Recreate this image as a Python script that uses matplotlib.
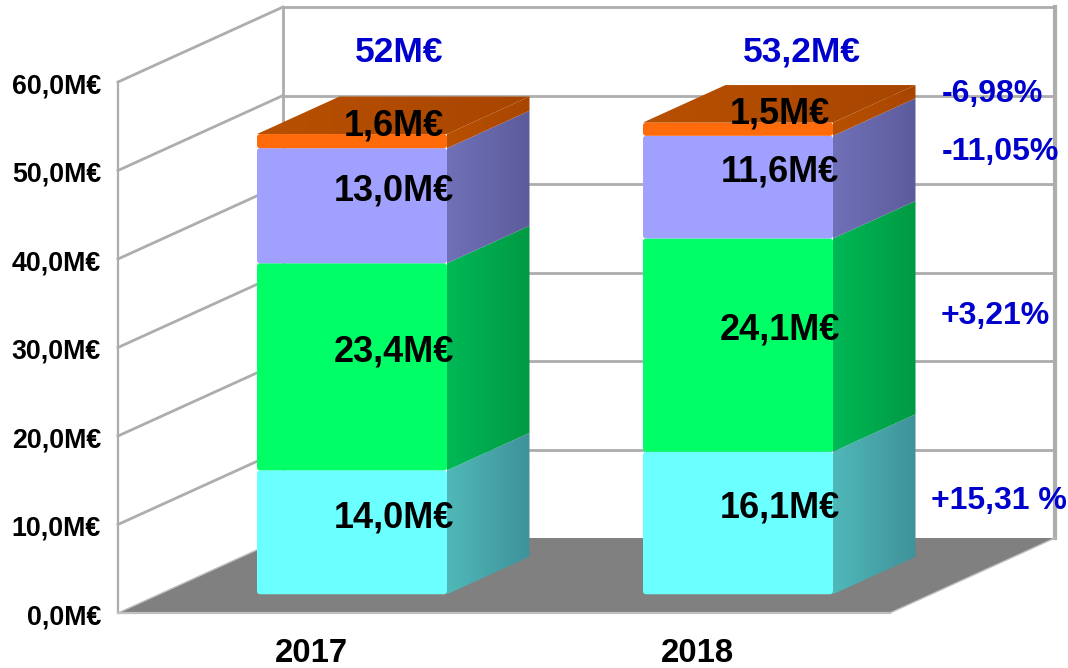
import numpy as np
import matplotlib
matplotlib.use('Agg')
import matplotlib.pyplot as plt
from matplotlib.colors import to_rgb
from matplotlib.patches import FancyBboxPatch, Polygon

years = ['2017', '2018']
segments = [
    [14.0, 23.4, 13.0, 1.6],
    [16.1, 24.1, 11.6, 1.5],
]
segment_labels = [
    ['14,0M€', '23,4M€', '13,0M€', '1,6M€'],
    ['16,1M€', '24,1M€', '11,6M€', '1,5M€'],
]
totals = ['52M€', '53,2M€']
y_ticks = [0, 10, 20, 30, 40, 50, 60]
y_tick_labels = ['0,0M€', '10,0M€', '20,0M€', '30,0M€', '40,0M€', '50,0M€', '60,0M€']
changes = ['+15,31 %', '+3,21%', '-11,05%', '-6,98%']

front_colors = ['#6cffff', '#00ff66', '#a0a0ff', '#ff6a0a']
side_colors = [('#50b8b8', '#3f929a'), ('#00b855', '#009a43'),
               ('#7070b8', '#5c5c9c'), ('#b85000', '#a84500')]

W, H = 1068, 668
# pixel scale: one category step and one value unit
xstep = 386.0
ystep = 8.85
x0px, y0px = 352.0, 613.0
depth_x = 165.0 / xstep
depth_y = 75.0 / ystep
bar_w = 190.0 / xstep


def px(x, y):
    return (x - x0px) / xstep, (y0px - y) / ystep


fig = plt.figure(figsize=(W / 100, H / 100), dpi=100)
ax = fig.add_axes([0, 0, 1, 1])
ax.set_autoscale_on(False)
ax.set_xlim(-x0px / xstep, (W - x0px) / xstep)
ax.set_ylim((y0px - H) / ystep, y0px / ystep)
ax.axis('off')
plt.rcParams['font.family'] = ['Liberation Sans', 'DejaVu Sans']

grid_c = '#adadad'
left = px(118, 0)[0]
right = px(890, 0)[0]
vmax = y_ticks[-1]

# floor
ax.add_patch(Polygon([(left, 0), (right, 0), (right + depth_x, depth_y), (left + depth_x, depth_y)],
                     fc='#808080', ec='none', zorder=1))
# walls
for v in y_ticks:
    if v > 0:
        ax.plot([left + depth_x, right + depth_x], [v + depth_y] * 2, color=grid_c, lw=2, zorder=2,
                solid_capstyle='butt')
        ax.plot([left, left + depth_x], [v, v + depth_y], color=grid_c, lw=2, zorder=2)
ax.plot([left, left], [0, vmax], color=grid_c, lw=1.6, zorder=2)
ax.plot([left + depth_x] * 2, [depth_y, vmax + depth_y], color=grid_c, lw=2, zorder=2)
ax.plot([right + depth_x] * 2, [depth_y, vmax + depth_y], color=grid_c, lw=3, zorder=2)
ax.plot([left, right], [0, 0], color='#c0c0c0', lw=1.6, zorder=2)
ax.plot([left, left + depth_x], [0, depth_y], color='#c0c0c0', lw=1, zorder=2)
ax.plot([right, right + depth_x], [0, depth_y], color='#c0c0c0', lw=1, zorder=2)

# bars sit a quarter of the depth above the front floor edge and are half the depth deep
off_y = depth_y * 0.25
bar_dx, bar_dy = depth_x * 0.5, depth_y * 0.5


def gradient_face(pts, c1, c2, zorder):
    pts = np.array(pts)
    t = np.linspace(0, 1, 64)[:, None]
    grad = np.array(to_rgb(c1)) * (1 - t) + np.array(to_rgb(c2)) * t
    im = ax.imshow(grad[None, :, :], extent=(pts[:, 0].min(), pts[:, 0].max(), pts[:, 1].min(), pts[:, 1].max()),
                   origin='lower', aspect='auto', interpolation='bilinear', zorder=zorder)
    clip = Polygon(pts, transform=ax.transData, fc='none', ec='none')
    ax.add_patch(clip)
    im.set_clip_path(clip)


for i, vals in enumerate(segments):
    xl = i - bar_w / 2
    xr = i + bar_w / 2
    bottom = off_y
    for k, v in enumerate(vals):
        top = bottom + v
        z = 5 + k * 0.1
        gradient_face([(xr, bottom), (xr + bar_dx, bottom + bar_dy),
                       (xr + bar_dx, top + bar_dy), (xr, top)],
                      side_colors[k][0], side_colors[k][1], z)
        r = 3.0 / xstep
        ax.add_patch(FancyBboxPatch((xl, bottom), bar_w, v,
                                    boxstyle='round,pad=0,rounding_size=%f' % r,
                                    mutation_aspect=xstep / ystep,
                                    fc=front_colors[k], ec='none', zorder=z + 0.01))
        ax.text(i + bar_dx / 2 + 1 / xstep, bottom + v / 2 + bar_dy / 2 - 0.45, segment_labels[i][k],
                ha='center', va='center', fontsize=26, fontweight='bold', color='black', zorder=20)
        bottom = top
    gradient_face([(xl, bottom), (xr, bottom), (xr + bar_dx, bottom + bar_dy),
                   (xl + bar_dx, bottom + bar_dy)],
                  side_colors[3][0], side_colors[3][1], 6)

# axis labels
for v, lab in zip(y_ticks, y_tick_labels):
    x, _ = px(101, 0)
    ax.text(x, v - 0.5, lab, ha='right', va='center', fontsize=19.3, fontweight='bold', zorder=20)
for i, lab in enumerate(years):
    x, y = px(311 + i * xstep, 654)
    ax.text(x, y, lab, ha='center', va='center', fontsize=23.7, fontweight='bold', zorder=20)

blue = '#0000cc'
for i, lab in enumerate(totals):
    x, y = px([399, 802][i], 52)
    ax.text(x, y, lab, ha='center', va='center', fontsize=25.5, fontweight='bold', color=blue, zorder=20)
for lab, (xp, yp) in zip(changes, [(999, 501), (995, 316), (1000, 152), (992, 94)]):
    x, y = px(xp, yp)
    ax.text(x, y, lab, ha='center', va='center', fontsize=23, fontweight='bold', color=blue, zorder=20)

fig.savefig('out.png', dpi=100, facecolor='white')
